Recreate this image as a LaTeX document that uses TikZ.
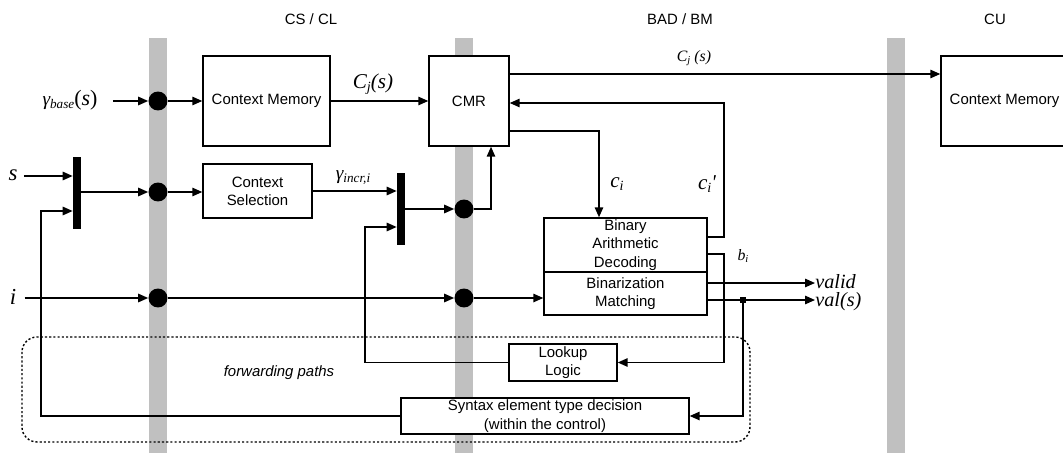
\documentclass[tikz,border=0pt]{standalone}
\usepackage{fontspec}
\setmainfont{Liberation Sans}
\newfontfamily\tms{Liberation Serif}
\usetikzlibrary{arrows.meta}
\definecolor{barcol}{RGB}{192,192,192}
\newcommand\mysub[2][7.5]{\raisebox{-0.35ex}{\fontsize{#1}{#1}\selectfont\itshape #2}}
\begin{document}
\begin{tikzpicture}[x=0.02cm,y=-0.02cm,
  every node/.style={font=\fontsize{8.5}{10.4}\selectfont},
  box/.style={draw, line width=0.85pt, fill=white, align=center, inner sep=0pt},
  wire/.style={line width=0.85pt},
  arr/.style={wire, -{Triangle[length=0.2cm,width=0.17cm]}},
  dotnode/.style={circle, fill=black, inner sep=0pt, minimum size=0.38cm},
  muxbar/.style={fill=black, inner sep=0pt, minimum width=0.16cm, minimum height=1.44cm},
  lbl/.style={inner sep=0pt},
  serif/.style={lbl, font=\tms\fontsize{#1}{#1}\selectfont\itshape},
  title/.style={lbl, font=\fontsize{8.5}{10}\selectfont},
]
\useasboundingbox (0,0) rectangle (1063,453);
% grey stage bars
\fill[barcol] (149,38) rectangle (167,453);
\fill[barcol] (455,38) rectangle (473,453);
\fill[barcol] (887,38) rectangle (905,453);
% forwarding region
\draw[line width=0.8pt, dash pattern=on 1.2pt off 1.2pt, rounded corners=0.3cm] (22,337) rectangle (750,442);
% titles
\node[title] (t1) at (311,19) {CS / CL};
\node[title] (t2) at (680,19) {BAD / BM};
\node[title] (t3) at (995,19) {CU};
% level coordinates
\coordinate (y74) at (0,74);
\coordinate (y103) at (0,103);
\coordinate (y131) at (0,131);
\coordinate (y176) at (0,176);
\coordinate (y211) at (0,211);
\coordinate (y227) at (0,227);
\coordinate (y237) at (0,237);
\coordinate (y254) at (0,254);
\coordinate (y283) at (0,283);
\coordinate (y300) at (0,300);
\coordinate (x41) at (41,0);
\coordinate (x365) at (365,0);
\coordinate (x491) at (491,0);
\coordinate (x599) at (599,0);
\coordinate (x724) at (724,0);
\coordinate (x743) at (743,0);
\coordinate (x815) at (815,0);
% boxes
\node[box, minimum width=2.54cm, minimum height=1.8cm] (cm1) at (266.5,101) {Context Memory};
\node[box, minimum width=1.6cm, minimum height=1.8cm] (cmr) at (469,101) {CMR};
\node[box, minimum width=2.54cm, minimum height=1.8cm] (cm2) at (1004.5,101) {Context Memory};
\node[box, minimum width=2.18cm, minimum height=1.08cm] (cs) at (257.5,191) {Context\\Selection};
\node[box, minimum width=3.26cm, minimum height=1.08cm] (bad) at (625.5,245) {Binary\\Arithmetic\\Decoding};
\node[box, minimum width=3.26cm, minimum height=0.86cm] (bm) at (625.5,293.5) {Binarization\\Matching};
\node[box, minimum width=2.16cm, minimum height=0.74cm] (lk) at (563,362.5) {Lookup\\Logic};
\node[box, minimum width=5.76cm, minimum height=0.72cm] (syn) at (545,416) {Syntax element type decision\\(within the control)};
% muxes and register dots
\node[muxbar] (m1) at (77,193) {};
\node[muxbar] (m2) at (401,209) {};
\node[dotnode] (d1) at (158,101) {};
\node[dotnode] (d2) at (158,192) {};
\node[dotnode] (d3) at (158,298) {};
\node[dotnode] (d4) at (464,209) {};
\node[dotnode] (d5) at (464,298) {};
% labels
\node[serif=11] (gb) at (70,100) {γ\mysub{base}{\fontsize{12.5}{12.5}\selectfont\upshape(\textit{s})}};
\node[serif=13] (sl) at (13,175) {s};
\node[serif=13] (il) at (13,297) {i};
\node[serif=12] (cj) at (373,84) {C\mysub[8]{j}(s)};
\node[serif=9] (cj2) at (694,58) {C\mysub[6]{j} (s)};
\node[serif=11] (gi) at (353,178) {γ\mysub{incr,i}};
\node[serif=12] (ci) at (617,184) {c\mysub[8]{i}};
\node[serif=12] (cip) at (707,184) {c\mysub[8]{i}\textquotesingle};
\node[serif=9] (bi) at (743,256) {b\mysub[6]{i}};
\node[serif=11.5, anchor=west] (vl) at (815,282) {valid};
\node[serif=11.5, anchor=west] (vs) at (815,302) {val(s)};
\node[lbl, font=\fontsize{8.5}{10}\selectfont\itshape] (fw) at (279,373) {forwarding paths};
% connectors
\draw[arr, shorten <=0.3cm] (gb.east |- d1) -- (d1.west);
\draw[arr] (d1.east) -- (cm1.west |- d1);
\draw[arr] (cm1.east |- d1) -- (cmr.west |- d1);
\draw[arr] (cmr.east |- y74) -- (cm2.west |- y74);
\draw[arr] (bad.east |- y237) -| (x724 |- y103) -- (cmr.east |- y103);
\draw[arr] (cmr.east |- y131) -| (x599 |- bad.north);
\draw[arr] (bad.east |- y254) -| (x724 |- lk.east) -- (lk.east);
\draw[arr] (bm.east |- y283) -- (x815 |- y283);
\draw[arr] (bm.east |- y300) -- (x815 |- y300);
\node[fill=black, minimum size=0.12cm, inner sep=0pt] (jn) at (x743 |- y300) {};
\draw[arr] (jn.center) |- (syn.east);
\draw[arr, shorten <=0.12cm] (sl.east |- y176) -- (m1.west |- y176);
\draw[arr] (syn.west) -| (x41 |- y211) -- (m1.west |- y211);
\draw[arr] (m1.east |- d2) -- (d2.west);
\draw[arr] (d2.east) -- (cs.west |- d2);
\draw[arr] (cs.east) -- (m2.west |- cs.east);
\draw[arr] (lk.west) -| (x365 |- y227) -- (m2.west |- y227);
\draw[arr] (m2.east |- d4) -- (d4.west);
\draw[arr] (d4.east) -| (x491 |- cmr.south);
\draw[arr, shorten <=0.16cm] (il.east |- d3) -- (d3.west);
\draw[arr] (d3.east) -- (d5.west);
\draw[arr] (d5.east) -- (bm.west |- d5);
\end{tikzpicture}
\end{document}
